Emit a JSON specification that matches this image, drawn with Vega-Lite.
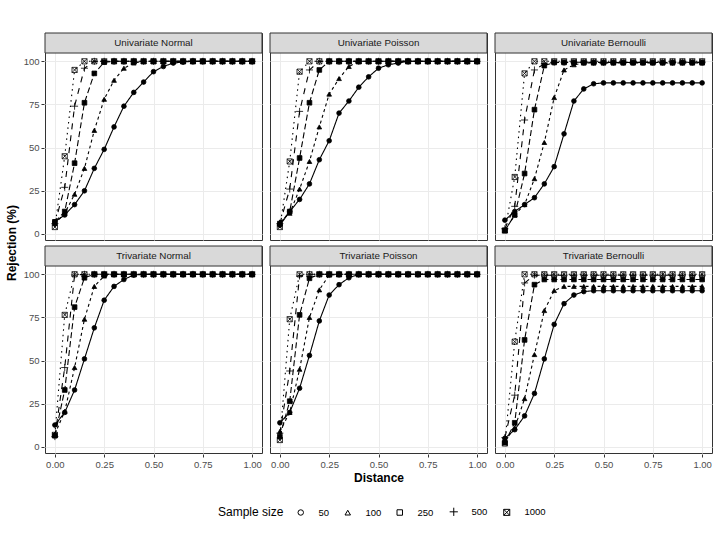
{
  "$schema": "https://vega.github.io/schema/vega-lite/v6.json",
  "padding": {"left": 5, "top": 32, "right": 4, "bottom": 4},
  "data": {"values": [
    {"v":"U","f":"N","n":50,"d":0,"r":7,"p":"Univariate Normal"},{"v":"U","f":"N","n":50,"d":0.05,"r":11},{"v":"U","f":"N","n":50,"d":0.1,"r":17},{"v":"U","f":"N","n":50,"d":0.15,"r":25},{"v":"U","f":"N","n":50,"d":0.2,"r":38},{"v":"U","f":"N","n":50,"d":0.25,"r":49},{"v":"U","f":"N","n":50,"d":0.3,"r":62},{"v":"U","f":"N","n":50,"d":0.35,"r":74},{"v":"U","f":"N","n":50,"d":0.4,"r":82},{"v":"U","f":"N","n":50,"d":0.45,"r":88},{"v":"U","f":"N","n":50,"d":0.5,"r":94},{"v":"U","f":"N","n":50,"d":0.55,"r":97},{"v":"U","f":"N","n":50,"d":0.6,"r":99},{"v":"U","f":"N","n":50,"d":0.65,"r":99.6},{"v":"U","f":"N","n":50,"d":0.7,"r":100},{"v":"U","f":"N","n":50,"d":0.75,"r":100},{"v":"U","f":"N","n":50,"d":0.8,"r":100},{"v":"U","f":"N","n":50,"d":0.85,"r":100},{"v":"U","f":"N","n":50,"d":0.9,"r":100},{"v":"U","f":"N","n":50,"d":0.95,"r":100},{"v":"U","f":"N","n":50,"d":1,"r":100},
    {"v":"U","f":"N","n":100,"d":0,"r":6},{"v":"U","f":"N","n":100,"d":0.05,"r":12},{"v":"U","f":"N","n":100,"d":0.1,"r":23},{"v":"U","f":"N","n":100,"d":0.15,"r":38},{"v":"U","f":"N","n":100,"d":0.2,"r":60},{"v":"U","f":"N","n":100,"d":0.25,"r":78},{"v":"U","f":"N","n":100,"d":0.3,"r":89},{"v":"U","f":"N","n":100,"d":0.35,"r":96},{"v":"U","f":"N","n":100,"d":0.4,"r":99},{"v":"U","f":"N","n":100,"d":0.45,"r":100},{"v":"U","f":"N","n":100,"d":0.5,"r":100},{"v":"U","f":"N","n":100,"d":0.55,"r":100},{"v":"U","f":"N","n":100,"d":0.6,"r":100},{"v":"U","f":"N","n":100,"d":0.65,"r":100},{"v":"U","f":"N","n":100,"d":0.7,"r":100},{"v":"U","f":"N","n":100,"d":0.75,"r":100},{"v":"U","f":"N","n":100,"d":0.8,"r":100},{"v":"U","f":"N","n":100,"d":0.85,"r":100},{"v":"U","f":"N","n":100,"d":0.9,"r":100},{"v":"U","f":"N","n":100,"d":0.95,"r":100},{"v":"U","f":"N","n":100,"d":1,"r":100},
    {"v":"U","f":"N","n":250,"d":0,"r":7},{"v":"U","f":"N","n":250,"d":0.05,"r":13},{"v":"U","f":"N","n":250,"d":0.1,"r":41},{"v":"U","f":"N","n":250,"d":0.15,"r":76},{"v":"U","f":"N","n":250,"d":0.2,"r":93},{"v":"U","f":"N","n":250,"d":0.25,"r":99.5},{"v":"U","f":"N","n":250,"d":0.3,"r":100},{"v":"U","f":"N","n":250,"d":0.35,"r":100},{"v":"U","f":"N","n":250,"d":0.4,"r":100},{"v":"U","f":"N","n":250,"d":0.45,"r":100},{"v":"U","f":"N","n":250,"d":0.5,"r":100},{"v":"U","f":"N","n":250,"d":0.55,"r":100},{"v":"U","f":"N","n":250,"d":0.6,"r":100},{"v":"U","f":"N","n":250,"d":0.65,"r":100},{"v":"U","f":"N","n":250,"d":0.7,"r":100},{"v":"U","f":"N","n":250,"d":0.75,"r":100},{"v":"U","f":"N","n":250,"d":0.8,"r":100},{"v":"U","f":"N","n":250,"d":0.85,"r":100},{"v":"U","f":"N","n":250,"d":0.9,"r":100},{"v":"U","f":"N","n":250,"d":0.95,"r":100},{"v":"U","f":"N","n":250,"d":1,"r":100},
    {"v":"U","f":"N","n":500,"d":0,"r":6},{"v":"U","f":"N","n":500,"d":0.05,"r":27},{"v":"U","f":"N","n":500,"d":0.1,"r":74},{"v":"U","f":"N","n":500,"d":0.15,"r":96},{"v":"U","f":"N","n":500,"d":0.2,"r":100},{"v":"U","f":"N","n":500,"d":0.25,"r":100},{"v":"U","f":"N","n":500,"d":0.3,"r":100},{"v":"U","f":"N","n":500,"d":0.35,"r":100},{"v":"U","f":"N","n":500,"d":0.4,"r":100},{"v":"U","f":"N","n":500,"d":0.45,"r":100},{"v":"U","f":"N","n":500,"d":0.5,"r":100},{"v":"U","f":"N","n":500,"d":0.55,"r":100},{"v":"U","f":"N","n":500,"d":0.6,"r":100},{"v":"U","f":"N","n":500,"d":0.65,"r":100},{"v":"U","f":"N","n":500,"d":0.7,"r":100},{"v":"U","f":"N","n":500,"d":0.75,"r":100},{"v":"U","f":"N","n":500,"d":0.8,"r":100},{"v":"U","f":"N","n":500,"d":0.85,"r":100},{"v":"U","f":"N","n":500,"d":0.9,"r":100},{"v":"U","f":"N","n":500,"d":0.95,"r":100},{"v":"U","f":"N","n":500,"d":1,"r":100},
    {"v":"U","f":"N","n":1000,"d":0,"r":4},{"v":"U","f":"N","n":1000,"d":0.05,"r":45},{"v":"U","f":"N","n":1000,"d":0.1,"r":95},{"v":"U","f":"N","n":1000,"d":0.15,"r":100},{"v":"U","f":"N","n":1000,"d":0.2,"r":100},{"v":"U","f":"N","n":1000,"d":0.25,"r":100},{"v":"U","f":"N","n":1000,"d":0.3,"r":100},{"v":"U","f":"N","n":1000,"d":0.35,"r":100},{"v":"U","f":"N","n":1000,"d":0.4,"r":100},{"v":"U","f":"N","n":1000,"d":0.45,"r":100},{"v":"U","f":"N","n":1000,"d":0.5,"r":100},{"v":"U","f":"N","n":1000,"d":0.55,"r":100},{"v":"U","f":"N","n":1000,"d":0.6,"r":100},{"v":"U","f":"N","n":1000,"d":0.65,"r":100},{"v":"U","f":"N","n":1000,"d":0.7,"r":100},{"v":"U","f":"N","n":1000,"d":0.75,"r":100},{"v":"U","f":"N","n":1000,"d":0.8,"r":100},{"v":"U","f":"N","n":1000,"d":0.85,"r":100},{"v":"U","f":"N","n":1000,"d":0.9,"r":100},{"v":"U","f":"N","n":1000,"d":0.95,"r":100},{"v":"U","f":"N","n":1000,"d":1,"r":100},

    {"v":"U","f":"P","n":50,"d":0,"r":5,"p":"Univariate Poisson"},{"v":"U","f":"P","n":50,"d":0.05,"r":13},{"v":"U","f":"P","n":50,"d":0.1,"r":20},{"v":"U","f":"P","n":50,"d":0.15,"r":29},{"v":"U","f":"P","n":50,"d":0.2,"r":43},{"v":"U","f":"P","n":50,"d":0.25,"r":54},{"v":"U","f":"P","n":50,"d":0.3,"r":70},{"v":"U","f":"P","n":50,"d":0.35,"r":77},{"v":"U","f":"P","n":50,"d":0.4,"r":85},{"v":"U","f":"P","n":50,"d":0.45,"r":91},{"v":"U","f":"P","n":50,"d":0.5,"r":96},{"v":"U","f":"P","n":50,"d":0.55,"r":98},{"v":"U","f":"P","n":50,"d":0.6,"r":99},{"v":"U","f":"P","n":50,"d":0.65,"r":100},{"v":"U","f":"P","n":50,"d":0.7,"r":100},{"v":"U","f":"P","n":50,"d":0.75,"r":100},{"v":"U","f":"P","n":50,"d":0.8,"r":100},{"v":"U","f":"P","n":50,"d":0.85,"r":100},{"v":"U","f":"P","n":50,"d":0.9,"r":100},{"v":"U","f":"P","n":50,"d":0.95,"r":100},{"v":"U","f":"P","n":50,"d":1,"r":100},
    {"v":"U","f":"P","n":100,"d":0,"r":7},{"v":"U","f":"P","n":100,"d":0.05,"r":12},{"v":"U","f":"P","n":100,"d":0.1,"r":26},{"v":"U","f":"P","n":100,"d":0.15,"r":42},{"v":"U","f":"P","n":100,"d":0.2,"r":62},{"v":"U","f":"P","n":100,"d":0.25,"r":81},{"v":"U","f":"P","n":100,"d":0.3,"r":90},{"v":"U","f":"P","n":100,"d":0.35,"r":97},{"v":"U","f":"P","n":100,"d":0.4,"r":100},{"v":"U","f":"P","n":100,"d":0.45,"r":100},{"v":"U","f":"P","n":100,"d":0.5,"r":100},{"v":"U","f":"P","n":100,"d":0.55,"r":100},{"v":"U","f":"P","n":100,"d":0.6,"r":100},{"v":"U","f":"P","n":100,"d":0.65,"r":100},{"v":"U","f":"P","n":100,"d":0.7,"r":100},{"v":"U","f":"P","n":100,"d":0.75,"r":100},{"v":"U","f":"P","n":100,"d":0.8,"r":100},{"v":"U","f":"P","n":100,"d":0.85,"r":100},{"v":"U","f":"P","n":100,"d":0.9,"r":100},{"v":"U","f":"P","n":100,"d":0.95,"r":100},{"v":"U","f":"P","n":100,"d":1,"r":100},
    {"v":"U","f":"P","n":250,"d":0,"r":6},{"v":"U","f":"P","n":250,"d":0.05,"r":13},{"v":"U","f":"P","n":250,"d":0.1,"r":44},{"v":"U","f":"P","n":250,"d":0.15,"r":76},{"v":"U","f":"P","n":250,"d":0.2,"r":95},{"v":"U","f":"P","n":250,"d":0.25,"r":100},{"v":"U","f":"P","n":250,"d":0.3,"r":100},{"v":"U","f":"P","n":250,"d":0.35,"r":100},{"v":"U","f":"P","n":250,"d":0.4,"r":100},{"v":"U","f":"P","n":250,"d":0.45,"r":100},{"v":"U","f":"P","n":250,"d":0.5,"r":100},{"v":"U","f":"P","n":250,"d":0.55,"r":100},{"v":"U","f":"P","n":250,"d":0.6,"r":100},{"v":"U","f":"P","n":250,"d":0.65,"r":100},{"v":"U","f":"P","n":250,"d":0.7,"r":100},{"v":"U","f":"P","n":250,"d":0.75,"r":100},{"v":"U","f":"P","n":250,"d":0.8,"r":100},{"v":"U","f":"P","n":250,"d":0.85,"r":100},{"v":"U","f":"P","n":250,"d":0.9,"r":100},{"v":"U","f":"P","n":250,"d":0.95,"r":100},{"v":"U","f":"P","n":250,"d":1,"r":100},
    {"v":"U","f":"P","n":500,"d":0,"r":6},{"v":"U","f":"P","n":500,"d":0.05,"r":26},{"v":"U","f":"P","n":500,"d":0.1,"r":71},{"v":"U","f":"P","n":500,"d":0.15,"r":95},{"v":"U","f":"P","n":500,"d":0.2,"r":100},{"v":"U","f":"P","n":500,"d":0.25,"r":100},{"v":"U","f":"P","n":500,"d":0.3,"r":100},{"v":"U","f":"P","n":500,"d":0.35,"r":100},{"v":"U","f":"P","n":500,"d":0.4,"r":100},{"v":"U","f":"P","n":500,"d":0.45,"r":100},{"v":"U","f":"P","n":500,"d":0.5,"r":100},{"v":"U","f":"P","n":500,"d":0.55,"r":100},{"v":"U","f":"P","n":500,"d":0.6,"r":100},{"v":"U","f":"P","n":500,"d":0.65,"r":100},{"v":"U","f":"P","n":500,"d":0.7,"r":100},{"v":"U","f":"P","n":500,"d":0.75,"r":100},{"v":"U","f":"P","n":500,"d":0.8,"r":100},{"v":"U","f":"P","n":500,"d":0.85,"r":100},{"v":"U","f":"P","n":500,"d":0.9,"r":100},{"v":"U","f":"P","n":500,"d":0.95,"r":100},{"v":"U","f":"P","n":500,"d":1,"r":100},
    {"v":"U","f":"P","n":1000,"d":0,"r":4},{"v":"U","f":"P","n":1000,"d":0.05,"r":42},{"v":"U","f":"P","n":1000,"d":0.1,"r":94},{"v":"U","f":"P","n":1000,"d":0.15,"r":100},{"v":"U","f":"P","n":1000,"d":0.2,"r":100},{"v":"U","f":"P","n":1000,"d":0.25,"r":100},{"v":"U","f":"P","n":1000,"d":0.3,"r":100},{"v":"U","f":"P","n":1000,"d":0.35,"r":100},{"v":"U","f":"P","n":1000,"d":0.4,"r":100},{"v":"U","f":"P","n":1000,"d":0.45,"r":100},{"v":"U","f":"P","n":1000,"d":0.5,"r":100},{"v":"U","f":"P","n":1000,"d":0.55,"r":100},{"v":"U","f":"P","n":1000,"d":0.6,"r":100},{"v":"U","f":"P","n":1000,"d":0.65,"r":100},{"v":"U","f":"P","n":1000,"d":0.7,"r":100},{"v":"U","f":"P","n":1000,"d":0.75,"r":100},{"v":"U","f":"P","n":1000,"d":0.8,"r":100},{"v":"U","f":"P","n":1000,"d":0.85,"r":100},{"v":"U","f":"P","n":1000,"d":0.9,"r":100},{"v":"U","f":"P","n":1000,"d":0.95,"r":100},{"v":"U","f":"P","n":1000,"d":1,"r":100},

    {"v":"U","f":"B","n":50,"d":0,"r":8,"p":"Univariate Bernoulli"},{"v":"U","f":"B","n":50,"d":0.05,"r":13},{"v":"U","f":"B","n":50,"d":0.1,"r":17},{"v":"U","f":"B","n":50,"d":0.15,"r":21},{"v":"U","f":"B","n":50,"d":0.2,"r":29},{"v":"U","f":"B","n":50,"d":0.25,"r":39},{"v":"U","f":"B","n":50,"d":0.3,"r":58},{"v":"U","f":"B","n":50,"d":0.35,"r":77},{"v":"U","f":"B","n":50,"d":0.4,"r":84},{"v":"U","f":"B","n":50,"d":0.45,"r":87},{"v":"U","f":"B","n":50,"d":0.5,"r":87.5},{"v":"U","f":"B","n":50,"d":0.55,"r":87.5},{"v":"U","f":"B","n":50,"d":0.6,"r":87.5},{"v":"U","f":"B","n":50,"d":0.65,"r":87.5},{"v":"U","f":"B","n":50,"d":0.7,"r":87.5},{"v":"U","f":"B","n":50,"d":0.75,"r":87.5},{"v":"U","f":"B","n":50,"d":0.8,"r":87.5},{"v":"U","f":"B","n":50,"d":0.85,"r":87.5},{"v":"U","f":"B","n":50,"d":0.9,"r":87.5},{"v":"U","f":"B","n":50,"d":0.95,"r":87.5},{"v":"U","f":"B","n":50,"d":1,"r":87.5},
    {"v":"U","f":"B","n":100,"d":0,"r":2},{"v":"U","f":"B","n":100,"d":0.05,"r":11},{"v":"U","f":"B","n":100,"d":0.1,"r":17},{"v":"U","f":"B","n":100,"d":0.15,"r":32},{"v":"U","f":"B","n":100,"d":0.2,"r":53},{"v":"U","f":"B","n":100,"d":0.25,"r":79},{"v":"U","f":"B","n":100,"d":0.3,"r":95},{"v":"U","f":"B","n":100,"d":0.35,"r":98},{"v":"U","f":"B","n":100,"d":0.4,"r":99},{"v":"U","f":"B","n":100,"d":0.45,"r":99},{"v":"U","f":"B","n":100,"d":0.5,"r":99},{"v":"U","f":"B","n":100,"d":0.55,"r":99},{"v":"U","f":"B","n":100,"d":0.6,"r":99},{"v":"U","f":"B","n":100,"d":0.65,"r":99},{"v":"U","f":"B","n":100,"d":0.7,"r":99},{"v":"U","f":"B","n":100,"d":0.75,"r":99},{"v":"U","f":"B","n":100,"d":0.8,"r":99},{"v":"U","f":"B","n":100,"d":0.85,"r":99},{"v":"U","f":"B","n":100,"d":0.9,"r":99},{"v":"U","f":"B","n":100,"d":0.95,"r":99},{"v":"U","f":"B","n":100,"d":1,"r":99},
    {"v":"U","f":"B","n":250,"d":0,"r":2},{"v":"U","f":"B","n":250,"d":0.05,"r":11},{"v":"U","f":"B","n":250,"d":0.1,"r":35},{"v":"U","f":"B","n":250,"d":0.15,"r":72},{"v":"U","f":"B","n":250,"d":0.2,"r":97.5},{"v":"U","f":"B","n":250,"d":0.25,"r":99.3},{"v":"U","f":"B","n":250,"d":0.3,"r":99.3},{"v":"U","f":"B","n":250,"d":0.35,"r":99.3},{"v":"U","f":"B","n":250,"d":0.4,"r":99.3},{"v":"U","f":"B","n":250,"d":0.45,"r":99.3},{"v":"U","f":"B","n":250,"d":0.5,"r":99.3},{"v":"U","f":"B","n":250,"d":0.55,"r":99.3},{"v":"U","f":"B","n":250,"d":0.6,"r":99.3},{"v":"U","f":"B","n":250,"d":0.65,"r":99.3},{"v":"U","f":"B","n":250,"d":0.7,"r":99.3},{"v":"U","f":"B","n":250,"d":0.75,"r":99.3},{"v":"U","f":"B","n":250,"d":0.8,"r":99.3},{"v":"U","f":"B","n":250,"d":0.85,"r":99.3},{"v":"U","f":"B","n":250,"d":0.9,"r":99.3},{"v":"U","f":"B","n":250,"d":0.95,"r":99.3},{"v":"U","f":"B","n":250,"d":1,"r":99.3},
    {"v":"U","f":"B","n":500,"d":0,"r":3},{"v":"U","f":"B","n":500,"d":0.05,"r":16},{"v":"U","f":"B","n":500,"d":0.1,"r":66},{"v":"U","f":"B","n":500,"d":0.15,"r":95},{"v":"U","f":"B","n":500,"d":0.2,"r":98.5},{"v":"U","f":"B","n":500,"d":0.25,"r":99.5},{"v":"U","f":"B","n":500,"d":0.3,"r":99.5},{"v":"U","f":"B","n":500,"d":0.35,"r":99.5},{"v":"U","f":"B","n":500,"d":0.4,"r":99.5},{"v":"U","f":"B","n":500,"d":0.45,"r":99.5},{"v":"U","f":"B","n":500,"d":0.5,"r":99.5},{"v":"U","f":"B","n":500,"d":0.55,"r":99.5},{"v":"U","f":"B","n":500,"d":0.6,"r":99.5},{"v":"U","f":"B","n":500,"d":0.65,"r":99.5},{"v":"U","f":"B","n":500,"d":0.7,"r":99.5},{"v":"U","f":"B","n":500,"d":0.75,"r":99.5},{"v":"U","f":"B","n":500,"d":0.8,"r":99.5},{"v":"U","f":"B","n":500,"d":0.85,"r":99.5},{"v":"U","f":"B","n":500,"d":0.9,"r":99.5},{"v":"U","f":"B","n":500,"d":0.95,"r":99.5},{"v":"U","f":"B","n":500,"d":1,"r":99.5},
    {"v":"U","f":"B","n":1000,"d":0,"r":2},{"v":"U","f":"B","n":1000,"d":0.05,"r":33},{"v":"U","f":"B","n":1000,"d":0.1,"r":93},{"v":"U","f":"B","n":1000,"d":0.15,"r":100},{"v":"U","f":"B","n":1000,"d":0.2,"r":100},{"v":"U","f":"B","n":1000,"d":0.25,"r":100},{"v":"U","f":"B","n":1000,"d":0.3,"r":100},{"v":"U","f":"B","n":1000,"d":0.35,"r":100},{"v":"U","f":"B","n":1000,"d":0.4,"r":100},{"v":"U","f":"B","n":1000,"d":0.45,"r":100},{"v":"U","f":"B","n":1000,"d":0.5,"r":100},{"v":"U","f":"B","n":1000,"d":0.55,"r":100},{"v":"U","f":"B","n":1000,"d":0.6,"r":100},{"v":"U","f":"B","n":1000,"d":0.65,"r":100},{"v":"U","f":"B","n":1000,"d":0.7,"r":100},{"v":"U","f":"B","n":1000,"d":0.75,"r":100},{"v":"U","f":"B","n":1000,"d":0.8,"r":100},{"v":"U","f":"B","n":1000,"d":0.85,"r":100},{"v":"U","f":"B","n":1000,"d":0.9,"r":100},{"v":"U","f":"B","n":1000,"d":0.95,"r":100},{"v":"U","f":"B","n":1000,"d":1,"r":100},

    {"v":"T","f":"N","n":50,"d":0,"r":12.7,"p":"Trivariate Normal"},{"v":"T","f":"N","n":50,"d":0.05,"r":20},{"v":"T","f":"N","n":50,"d":0.1,"r":33},{"v":"T","f":"N","n":50,"d":0.15,"r":51},{"v":"T","f":"N","n":50,"d":0.2,"r":69},{"v":"T","f":"N","n":50,"d":0.25,"r":85},{"v":"T","f":"N","n":50,"d":0.3,"r":93},{"v":"T","f":"N","n":50,"d":0.35,"r":97},{"v":"T","f":"N","n":50,"d":0.4,"r":99.6},{"v":"T","f":"N","n":50,"d":0.45,"r":100},{"v":"T","f":"N","n":50,"d":0.5,"r":100},{"v":"T","f":"N","n":50,"d":0.55,"r":100},{"v":"T","f":"N","n":50,"d":0.6,"r":100},{"v":"T","f":"N","n":50,"d":0.65,"r":100},{"v":"T","f":"N","n":50,"d":0.7,"r":100},{"v":"T","f":"N","n":50,"d":0.75,"r":100},{"v":"T","f":"N","n":50,"d":0.8,"r":100},{"v":"T","f":"N","n":50,"d":0.85,"r":100},{"v":"T","f":"N","n":50,"d":0.9,"r":100},{"v":"T","f":"N","n":50,"d":0.95,"r":100},{"v":"T","f":"N","n":50,"d":1,"r":100},
    {"v":"T","f":"N","n":100,"d":0,"r":7.5},{"v":"T","f":"N","n":100,"d":0.05,"r":20.5},{"v":"T","f":"N","n":100,"d":0.1,"r":46},{"v":"T","f":"N","n":100,"d":0.15,"r":74},{"v":"T","f":"N","n":100,"d":0.2,"r":93},{"v":"T","f":"N","n":100,"d":0.25,"r":99},{"v":"T","f":"N","n":100,"d":0.3,"r":100},{"v":"T","f":"N","n":100,"d":0.35,"r":100},{"v":"T","f":"N","n":100,"d":0.4,"r":100},{"v":"T","f":"N","n":100,"d":0.45,"r":100},{"v":"T","f":"N","n":100,"d":0.5,"r":100},{"v":"T","f":"N","n":100,"d":0.55,"r":100},{"v":"T","f":"N","n":100,"d":0.6,"r":100},{"v":"T","f":"N","n":100,"d":0.65,"r":100},{"v":"T","f":"N","n":100,"d":0.7,"r":100},{"v":"T","f":"N","n":100,"d":0.75,"r":100},{"v":"T","f":"N","n":100,"d":0.8,"r":100},{"v":"T","f":"N","n":100,"d":0.85,"r":100},{"v":"T","f":"N","n":100,"d":0.9,"r":100},{"v":"T","f":"N","n":100,"d":0.95,"r":100},{"v":"T","f":"N","n":100,"d":1,"r":100},
    {"v":"T","f":"N","n":250,"d":0,"r":6.5},{"v":"T","f":"N","n":250,"d":0.05,"r":33},{"v":"T","f":"N","n":250,"d":0.1,"r":81},{"v":"T","f":"N","n":250,"d":0.15,"r":98},{"v":"T","f":"N","n":250,"d":0.2,"r":100},{"v":"T","f":"N","n":250,"d":0.25,"r":100},{"v":"T","f":"N","n":250,"d":0.3,"r":100},{"v":"T","f":"N","n":250,"d":0.35,"r":100},{"v":"T","f":"N","n":250,"d":0.4,"r":100},{"v":"T","f":"N","n":250,"d":0.45,"r":100},{"v":"T","f":"N","n":250,"d":0.5,"r":100},{"v":"T","f":"N","n":250,"d":0.55,"r":100},{"v":"T","f":"N","n":250,"d":0.6,"r":100},{"v":"T","f":"N","n":250,"d":0.65,"r":100},{"v":"T","f":"N","n":250,"d":0.7,"r":100},{"v":"T","f":"N","n":250,"d":0.75,"r":100},{"v":"T","f":"N","n":250,"d":0.8,"r":100},{"v":"T","f":"N","n":250,"d":0.85,"r":100},{"v":"T","f":"N","n":250,"d":0.9,"r":100},{"v":"T","f":"N","n":250,"d":0.95,"r":100},{"v":"T","f":"N","n":250,"d":1,"r":100},
    {"v":"T","f":"N","n":500,"d":0,"r":6},{"v":"T","f":"N","n":500,"d":0.05,"r":46},{"v":"T","f":"N","n":500,"d":0.1,"r":99.6},{"v":"T","f":"N","n":500,"d":0.15,"r":100},{"v":"T","f":"N","n":500,"d":0.2,"r":100},{"v":"T","f":"N","n":500,"d":0.25,"r":100},{"v":"T","f":"N","n":500,"d":0.3,"r":100},{"v":"T","f":"N","n":500,"d":0.35,"r":100},{"v":"T","f":"N","n":500,"d":0.4,"r":100},{"v":"T","f":"N","n":500,"d":0.45,"r":100},{"v":"T","f":"N","n":500,"d":0.5,"r":100},{"v":"T","f":"N","n":500,"d":0.55,"r":100},{"v":"T","f":"N","n":500,"d":0.6,"r":100},{"v":"T","f":"N","n":500,"d":0.65,"r":100},{"v":"T","f":"N","n":500,"d":0.7,"r":100},{"v":"T","f":"N","n":500,"d":0.75,"r":100},{"v":"T","f":"N","n":500,"d":0.8,"r":100},{"v":"T","f":"N","n":500,"d":0.85,"r":100},{"v":"T","f":"N","n":500,"d":0.9,"r":100},{"v":"T","f":"N","n":500,"d":0.95,"r":100},{"v":"T","f":"N","n":500,"d":1,"r":100},
    {"v":"T","f":"N","n":1000,"d":0,"r":7},{"v":"T","f":"N","n":1000,"d":0.05,"r":76.5},{"v":"T","f":"N","n":1000,"d":0.1,"r":100},{"v":"T","f":"N","n":1000,"d":0.15,"r":100},{"v":"T","f":"N","n":1000,"d":0.2,"r":100},{"v":"T","f":"N","n":1000,"d":0.25,"r":100},{"v":"T","f":"N","n":1000,"d":0.3,"r":100},{"v":"T","f":"N","n":1000,"d":0.35,"r":100},{"v":"T","f":"N","n":1000,"d":0.4,"r":100},{"v":"T","f":"N","n":1000,"d":0.45,"r":100},{"v":"T","f":"N","n":1000,"d":0.5,"r":100},{"v":"T","f":"N","n":1000,"d":0.55,"r":100},{"v":"T","f":"N","n":1000,"d":0.6,"r":100},{"v":"T","f":"N","n":1000,"d":0.65,"r":100},{"v":"T","f":"N","n":1000,"d":0.7,"r":100},{"v":"T","f":"N","n":1000,"d":0.75,"r":100},{"v":"T","f":"N","n":1000,"d":0.8,"r":100},{"v":"T","f":"N","n":1000,"d":0.85,"r":100},{"v":"T","f":"N","n":1000,"d":0.9,"r":100},{"v":"T","f":"N","n":1000,"d":0.95,"r":100},{"v":"T","f":"N","n":1000,"d":1,"r":100},

    {"v":"T","f":"P","n":50,"d":0,"r":14,"p":"Trivariate Poisson"},{"v":"T","f":"P","n":50,"d":0.05,"r":20},{"v":"T","f":"P","n":50,"d":0.1,"r":34},{"v":"T","f":"P","n":50,"d":0.15,"r":53},{"v":"T","f":"P","n":50,"d":0.2,"r":73},{"v":"T","f":"P","n":50,"d":0.25,"r":88},{"v":"T","f":"P","n":50,"d":0.3,"r":94},{"v":"T","f":"P","n":50,"d":0.35,"r":98},{"v":"T","f":"P","n":50,"d":0.4,"r":100},{"v":"T","f":"P","n":50,"d":0.45,"r":100},{"v":"T","f":"P","n":50,"d":0.5,"r":100},{"v":"T","f":"P","n":50,"d":0.55,"r":100},{"v":"T","f":"P","n":50,"d":0.6,"r":100},{"v":"T","f":"P","n":50,"d":0.65,"r":100},{"v":"T","f":"P","n":50,"d":0.7,"r":100},{"v":"T","f":"P","n":50,"d":0.75,"r":100},{"v":"T","f":"P","n":50,"d":0.8,"r":100},{"v":"T","f":"P","n":50,"d":0.85,"r":100},{"v":"T","f":"P","n":50,"d":0.9,"r":100},{"v":"T","f":"P","n":50,"d":0.95,"r":100},{"v":"T","f":"P","n":50,"d":1,"r":100},
    {"v":"T","f":"P","n":100,"d":0,"r":9},{"v":"T","f":"P","n":100,"d":0.05,"r":20},{"v":"T","f":"P","n":100,"d":0.1,"r":45},{"v":"T","f":"P","n":100,"d":0.15,"r":75},{"v":"T","f":"P","n":100,"d":0.2,"r":91},{"v":"T","f":"P","n":100,"d":0.25,"r":99.6},{"v":"T","f":"P","n":100,"d":0.3,"r":100},{"v":"T","f":"P","n":100,"d":0.35,"r":100},{"v":"T","f":"P","n":100,"d":0.4,"r":100},{"v":"T","f":"P","n":100,"d":0.45,"r":100},{"v":"T","f":"P","n":100,"d":0.5,"r":100},{"v":"T","f":"P","n":100,"d":0.55,"r":100},{"v":"T","f":"P","n":100,"d":0.6,"r":100},{"v":"T","f":"P","n":100,"d":0.65,"r":100},{"v":"T","f":"P","n":100,"d":0.7,"r":100},{"v":"T","f":"P","n":100,"d":0.75,"r":100},{"v":"T","f":"P","n":100,"d":0.8,"r":100},{"v":"T","f":"P","n":100,"d":0.85,"r":100},{"v":"T","f":"P","n":100,"d":0.9,"r":100},{"v":"T","f":"P","n":100,"d":0.95,"r":100},{"v":"T","f":"P","n":100,"d":1,"r":100},
    {"v":"T","f":"P","n":250,"d":0,"r":6},{"v":"T","f":"P","n":250,"d":0.05,"r":26.5},{"v":"T","f":"P","n":250,"d":0.1,"r":76.5},{"v":"T","f":"P","n":250,"d":0.15,"r":97.7},{"v":"T","f":"P","n":250,"d":0.2,"r":100},{"v":"T","f":"P","n":250,"d":0.25,"r":100},{"v":"T","f":"P","n":250,"d":0.3,"r":100},{"v":"T","f":"P","n":250,"d":0.35,"r":100},{"v":"T","f":"P","n":250,"d":0.4,"r":100},{"v":"T","f":"P","n":250,"d":0.45,"r":100},{"v":"T","f":"P","n":250,"d":0.5,"r":100},{"v":"T","f":"P","n":250,"d":0.55,"r":100},{"v":"T","f":"P","n":250,"d":0.6,"r":100},{"v":"T","f":"P","n":250,"d":0.65,"r":100},{"v":"T","f":"P","n":250,"d":0.7,"r":100},{"v":"T","f":"P","n":250,"d":0.75,"r":100},{"v":"T","f":"P","n":250,"d":0.8,"r":100},{"v":"T","f":"P","n":250,"d":0.85,"r":100},{"v":"T","f":"P","n":250,"d":0.9,"r":100},{"v":"T","f":"P","n":250,"d":0.95,"r":100},{"v":"T","f":"P","n":250,"d":1,"r":100},
    {"v":"T","f":"P","n":500,"d":0,"r":8},{"v":"T","f":"P","n":500,"d":0.05,"r":44},{"v":"T","f":"P","n":500,"d":0.1,"r":99},{"v":"T","f":"P","n":500,"d":0.15,"r":100},{"v":"T","f":"P","n":500,"d":0.2,"r":100},{"v":"T","f":"P","n":500,"d":0.25,"r":100},{"v":"T","f":"P","n":500,"d":0.3,"r":100},{"v":"T","f":"P","n":500,"d":0.35,"r":100},{"v":"T","f":"P","n":500,"d":0.4,"r":100},{"v":"T","f":"P","n":500,"d":0.45,"r":100},{"v":"T","f":"P","n":500,"d":0.5,"r":100},{"v":"T","f":"P","n":500,"d":0.55,"r":100},{"v":"T","f":"P","n":500,"d":0.6,"r":100},{"v":"T","f":"P","n":500,"d":0.65,"r":100},{"v":"T","f":"P","n":500,"d":0.7,"r":100},{"v":"T","f":"P","n":500,"d":0.75,"r":100},{"v":"T","f":"P","n":500,"d":0.8,"r":100},{"v":"T","f":"P","n":500,"d":0.85,"r":100},{"v":"T","f":"P","n":500,"d":0.9,"r":100},{"v":"T","f":"P","n":500,"d":0.95,"r":100},{"v":"T","f":"P","n":500,"d":1,"r":100},
    {"v":"T","f":"P","n":1000,"d":0,"r":4},{"v":"T","f":"P","n":1000,"d":0.05,"r":74},{"v":"T","f":"P","n":1000,"d":0.1,"r":100},{"v":"T","f":"P","n":1000,"d":0.15,"r":100},{"v":"T","f":"P","n":1000,"d":0.2,"r":100},{"v":"T","f":"P","n":1000,"d":0.25,"r":100},{"v":"T","f":"P","n":1000,"d":0.3,"r":100},{"v":"T","f":"P","n":1000,"d":0.35,"r":100},{"v":"T","f":"P","n":1000,"d":0.4,"r":100},{"v":"T","f":"P","n":1000,"d":0.45,"r":100},{"v":"T","f":"P","n":1000,"d":0.5,"r":100},{"v":"T","f":"P","n":1000,"d":0.55,"r":100},{"v":"T","f":"P","n":1000,"d":0.6,"r":100},{"v":"T","f":"P","n":1000,"d":0.65,"r":100},{"v":"T","f":"P","n":1000,"d":0.7,"r":100},{"v":"T","f":"P","n":1000,"d":0.75,"r":100},{"v":"T","f":"P","n":1000,"d":0.8,"r":100},{"v":"T","f":"P","n":1000,"d":0.85,"r":100},{"v":"T","f":"P","n":1000,"d":0.9,"r":100},{"v":"T","f":"P","n":1000,"d":0.95,"r":100},{"v":"T","f":"P","n":1000,"d":1,"r":100},

    {"v":"T","f":"B","n":50,"d":0,"r":5,"p":"Trivariate Bernoulli"},{"v":"T","f":"B","n":50,"d":0.05,"r":10},{"v":"T","f":"B","n":50,"d":0.1,"r":18},{"v":"T","f":"B","n":50,"d":0.15,"r":31},{"v":"T","f":"B","n":50,"d":0.2,"r":51},{"v":"T","f":"B","n":50,"d":0.25,"r":71},{"v":"T","f":"B","n":50,"d":0.3,"r":83},{"v":"T","f":"B","n":50,"d":0.35,"r":88},{"v":"T","f":"B","n":50,"d":0.4,"r":90},{"v":"T","f":"B","n":50,"d":0.45,"r":90.5},{"v":"T","f":"B","n":50,"d":0.5,"r":90.5},{"v":"T","f":"B","n":50,"d":0.55,"r":90.5},{"v":"T","f":"B","n":50,"d":0.6,"r":90.5},{"v":"T","f":"B","n":50,"d":0.65,"r":90.5},{"v":"T","f":"B","n":50,"d":0.7,"r":90.5},{"v":"T","f":"B","n":50,"d":0.75,"r":90.5},{"v":"T","f":"B","n":50,"d":0.8,"r":90.5},{"v":"T","f":"B","n":50,"d":0.85,"r":90.5},{"v":"T","f":"B","n":50,"d":0.9,"r":90.5},{"v":"T","f":"B","n":50,"d":0.95,"r":90.5},{"v":"T","f":"B","n":50,"d":1,"r":90.5},
    {"v":"T","f":"B","n":100,"d":0,"r":3.5},{"v":"T","f":"B","n":100,"d":0.05,"r":11},{"v":"T","f":"B","n":100,"d":0.1,"r":28},{"v":"T","f":"B","n":100,"d":0.15,"r":53.5},{"v":"T","f":"B","n":100,"d":0.2,"r":79},{"v":"T","f":"B","n":100,"d":0.25,"r":90.6},{"v":"T","f":"B","n":100,"d":0.3,"r":93},{"v":"T","f":"B","n":100,"d":0.35,"r":93},{"v":"T","f":"B","n":100,"d":0.4,"r":93},{"v":"T","f":"B","n":100,"d":0.45,"r":93},{"v":"T","f":"B","n":100,"d":0.5,"r":93},{"v":"T","f":"B","n":100,"d":0.55,"r":93},{"v":"T","f":"B","n":100,"d":0.6,"r":93},{"v":"T","f":"B","n":100,"d":0.65,"r":93},{"v":"T","f":"B","n":100,"d":0.7,"r":93},{"v":"T","f":"B","n":100,"d":0.75,"r":93},{"v":"T","f":"B","n":100,"d":0.8,"r":93},{"v":"T","f":"B","n":100,"d":0.85,"r":93},{"v":"T","f":"B","n":100,"d":0.9,"r":93},{"v":"T","f":"B","n":100,"d":0.95,"r":93},{"v":"T","f":"B","n":100,"d":1,"r":93},
    {"v":"T","f":"B","n":250,"d":0,"r":2.5},{"v":"T","f":"B","n":250,"d":0.05,"r":14},{"v":"T","f":"B","n":250,"d":0.1,"r":62},{"v":"T","f":"B","n":250,"d":0.15,"r":94},{"v":"T","f":"B","n":250,"d":0.2,"r":97},{"v":"T","f":"B","n":250,"d":0.25,"r":97},{"v":"T","f":"B","n":250,"d":0.3,"r":97},{"v":"T","f":"B","n":250,"d":0.35,"r":97},{"v":"T","f":"B","n":250,"d":0.4,"r":97},{"v":"T","f":"B","n":250,"d":0.45,"r":97},{"v":"T","f":"B","n":250,"d":0.5,"r":97},{"v":"T","f":"B","n":250,"d":0.55,"r":97},{"v":"T","f":"B","n":250,"d":0.6,"r":97},{"v":"T","f":"B","n":250,"d":0.65,"r":97},{"v":"T","f":"B","n":250,"d":0.7,"r":97},{"v":"T","f":"B","n":250,"d":0.75,"r":97},{"v":"T","f":"B","n":250,"d":0.8,"r":97},{"v":"T","f":"B","n":250,"d":0.85,"r":97},{"v":"T","f":"B","n":250,"d":0.9,"r":97},{"v":"T","f":"B","n":250,"d":0.95,"r":97},{"v":"T","f":"B","n":250,"d":1,"r":97},
    {"v":"T","f":"B","n":500,"d":0,"r":5.4},{"v":"T","f":"B","n":500,"d":0.05,"r":30},{"v":"T","f":"B","n":500,"d":0.1,"r":95},{"v":"T","f":"B","n":500,"d":0.15,"r":99.5},{"v":"T","f":"B","n":500,"d":0.2,"r":99.5},{"v":"T","f":"B","n":500,"d":0.25,"r":99.5},{"v":"T","f":"B","n":500,"d":0.3,"r":99.5},{"v":"T","f":"B","n":500,"d":0.35,"r":99.5},{"v":"T","f":"B","n":500,"d":0.4,"r":99.5},{"v":"T","f":"B","n":500,"d":0.45,"r":99.5},{"v":"T","f":"B","n":500,"d":0.5,"r":99.5},{"v":"T","f":"B","n":500,"d":0.55,"r":99.5},{"v":"T","f":"B","n":500,"d":0.6,"r":99.5},{"v":"T","f":"B","n":500,"d":0.65,"r":99.5},{"v":"T","f":"B","n":500,"d":0.7,"r":99.5},{"v":"T","f":"B","n":500,"d":0.75,"r":99.5},{"v":"T","f":"B","n":500,"d":0.8,"r":99.5},{"v":"T","f":"B","n":500,"d":0.85,"r":99.5},{"v":"T","f":"B","n":500,"d":0.9,"r":99.5},{"v":"T","f":"B","n":500,"d":0.95,"r":99.5},{"v":"T","f":"B","n":500,"d":1,"r":99.5},
    {"v":"T","f":"B","n":1000,"d":0,"r":2},{"v":"T","f":"B","n":1000,"d":0.05,"r":61},{"v":"T","f":"B","n":1000,"d":0.1,"r":100},{"v":"T","f":"B","n":1000,"d":0.15,"r":100},{"v":"T","f":"B","n":1000,"d":0.2,"r":100},{"v":"T","f":"B","n":1000,"d":0.25,"r":100},{"v":"T","f":"B","n":1000,"d":0.3,"r":100},{"v":"T","f":"B","n":1000,"d":0.35,"r":100},{"v":"T","f":"B","n":1000,"d":0.4,"r":100},{"v":"T","f":"B","n":1000,"d":0.45,"r":100},{"v":"T","f":"B","n":1000,"d":0.5,"r":100},{"v":"T","f":"B","n":1000,"d":0.55,"r":100},{"v":"T","f":"B","n":1000,"d":0.6,"r":100},{"v":"T","f":"B","n":1000,"d":0.65,"r":100},{"v":"T","f":"B","n":1000,"d":0.7,"r":100},{"v":"T","f":"B","n":1000,"d":0.75,"r":100},{"v":"T","f":"B","n":1000,"d":0.8,"r":100},{"v":"T","f":"B","n":1000,"d":0.85,"r":100},{"v":"T","f":"B","n":1000,"d":0.9,"r":100},{"v":"T","f":"B","n":1000,"d":0.95,"r":100},{"v":"T","f":"B","n":1000,"d":1,"r":100}
  ]},
  "facet": {
    "row": {"field": "v", "type": "nominal", "sort": ["U", "T"],
      "header": {"labels": false, "title": "Rejection (%)", "titlePadding": -6}},
    "column": {"field": "f", "type": "nominal", "sort": ["N", "P", "B"],
      "header": {"labels": false, "title": "Distance", "titleOrient": "bottom", "titlePadding": -6}}
  },
  "spacing": {"row": 4, "column": 6},
  "spec": {
    "width": 217,
    "height": 207,
    "layer": [
      {
        "mark": {"type": "line", "color": "black", "strokeWidth": 1.1},
        "encoding": {
          "x": {"field": "d", "type": "quantitative",
            "scale": {"domain": [-0.05, 1.05], "nice": false, "zero": false},
            "axis": {"title": null, "values": [0, 0.125, 0.25, 0.375, 0.5, 0.625, 0.75, 0.875, 1],
              "format": ".2f",
              "labelExpr": "(datum.value * 8) % 2 == 1 ? '' : datum.label",
              "tickOpacity": {"condition": {"test": "(datum.value * 8) % 2 == 1", "value": 0}, "value": 1},
              "gridWidth": {"condition": {"test": "(datum.value * 8) % 2 == 1", "value": 0.5}, "value": 1}}},
          "y": {"field": "r", "type": "quantitative",
            "scale": {"domain": [-3.5, 116.4], "nice": false, "zero": false},
            "axis": {"title": null, "values": [0, 12.5, 25, 37.5, 50, 62.5, 75, 87.5, 100],
              "labelExpr": "(datum.value / 12.5) % 2 == 1 ? '' : datum.label",
              "tickOpacity": {"condition": {"test": "(datum.value / 12.5) % 2 == 1", "value": 0}, "value": 1},
              "gridWidth": {"condition": {"test": "(datum.value / 12.5) % 2 == 1", "value": 0.5}, "value": 1}}},
          "strokeDash": {"field": "n", "type": "nominal",
            "scale": {"domain": [50, 100, 250, 500, 1000, 2000], "range": [[1, 0], [3, 3], [6, 3], [6, 6], [1.5, 4], [1, 0]]},
            "legend": null}
        }
      },
      {
        "mark": {"type": "point", "opacity": 1, "stroke": "black", "strokeWidth": 0.8, "size": 22},
        "encoding": {
          "x": {"field": "d", "type": "quantitative"},
          "y": {"field": "r", "type": "quantitative"},
          "fill": {"condition": {"test": "datum.n < 500", "value": "black"}, "value": "transparent"},
          "shape": {"field": "n", "type": "nominal", "title": "Sample size",
            "scale": {"domain": [50, 100, 250, 500, 1000],
              "range": ["circle", "triangle-up", "square", "M-1.5,0L1.5,0M0,-1.5L0,1.5", "M-1.1,-1.1L1.1,-1.1L1.1,1.1L-1.1,1.1ZM-1.1,-1.1L1.1,1.1M-1.1,1.1L1.1,-1.1"]},
            "legend": {
              "orient": "none", "legendX": 173, "legendY": 474,
              "direction": "horizontal", "titleOrient": "left", "titleBaseline": "middle",
              "titleFontSize": 12, "titleFontWeight": "normal", "titleColor": "black", "titlePadding": 12,
              "labelFontSize": 9.5, "labelColor": "black", "labelOffset": 13,
              "symbolSize": 30, "symbolStrokeWidth": 1, "columnPadding": 13,
              "encode": {"symbols": {
                "update": {
                  "shape": {"signal": "datum.value == 50 ? 'M-3.83,0L3.83,0M-0.84,0A0.84,0.84 0 1 0 0.84,0A0.84,0.84 0 1 0 -0.84,0Z' : datum.value == 100 ? 'M-3.83,0L-2.73,0M-1.64,0L-0.9,0M0.9,0L1.64,0M2.73,0L3.83,0M0,-1L0.95,0.65L-0.95,0.65Z' : datum.value == 250 ? 'M-3.83,0L-1.64,0M-0.55,0L0.55,0M1.64,0L3.3,0M-0.8,-0.8L0.8,-0.8L0.8,0.8L-0.8,0.8Z' : datum.value == 500 ? 'M-3.83,0L-1.64,0M1.64,0L3.83,0M-1.3,0L1.3,0M0,-1.3L0,1.3' : 'M-3.83,0L-3.28,0M-1.82,0L-1.27,0M1.27,0L1.82,0M3.28,0L3.83,0M-0.9,-0.9L0.9,-0.9L0.9,0.9L-0.9,0.9ZM-0.9,-0.9L0.9,0.9M-0.9,0.9L0.9,-0.9'"},
                  "fill": {"signal": "datum.value >= 500 ? 'transparent' : 'black'"},
                  "stroke": {"value": "black"},
                  "strokeDash": {"value": [1, 0]},
                  "opacity": {"value": 1}
                },
                "shape": {"value": {"expr": "datum.value == 50 ? 'M-3.83,0L3.83,0M-0.84,0A0.84,0.84 0 1 0 0.84,0A0.84,0.84 0 1 0 -0.84,0Z' : datum.value == 100 ? 'M-3.83,0L-2.73,0M-1.64,0L-0.9,0M0.9,0L1.64,0M2.73,0L3.83,0M0,-1L0.95,0.65L-0.95,0.65Z' : datum.value == 250 ? 'M-3.83,0L-1.64,0M-0.55,0L0.55,0M1.64,0L3.3,0M-0.8,-0.8L0.8,-0.8L0.8,0.8L-0.8,0.8Z' : datum.value == 500 ? 'M-3.83,0L-1.64,0M1.64,0L3.83,0M-1.3,0L1.3,0M0,-1.3L0,1.3' : 'M-3.83,0L-3.28,0M-1.82,0L-1.27,0M1.27,0L1.82,0M3.28,0L3.83,0M-0.9,-0.9L0.9,-0.9L0.9,0.9L-0.9,0.9ZM-0.9,-0.9L0.9,0.9M-0.9,0.9L0.9,-0.9'"}},
                "fill": {"value": {"expr": "datum.value >= 500 ? 'transparent' : 'black'"}},
                "stroke": {"value": "black"},
                "opacity": {"value": 1}
              }}
            }}
        }
      },
      {
        "transform": [{"filter": "datum.n == 50 && datum.d == 0"}],
        "mark": {"type": "rect", "fill": "#d9d9d9", "stroke": "#333333", "strokeWidth": 1},
        "encoding": {
          "x": {"datum": -0.05, "type": "quantitative"},
          "x2": {"datum": 1.05},
          "y": {"datum": 104.8, "type": "quantitative"},
          "y2": {"datum": 116.4}
        }
      },
      {
        "transform": [{"filter": "datum.n == 50 && datum.d == 0"}],
        "mark": {"type": "text", "fontSize": 9.8, "color": "#1a1a1a", "baseline": "middle", "align": "center"},
        "encoding": {
          "x": {"datum": 0.5, "type": "quantitative"},
          "y": {"datum": 110.6, "type": "quantitative"},
          "text": {"field": "p"}
        }
      }
    ]
  },
  "config": {
    "font": "Liberation Sans",
    "view": {"stroke": "#333333", "strokeWidth": 1},
    "axis": {"domain": false, "gridColor": "#ebebeb", "tickColor": "#333333", "tickSize": 3,
      "labelFontSize": 9.5, "labelColor": "#4d4d4d", "labelPadding": 2},
    "header": {"titleFontSize": 12, "titleFontWeight": "bold", "titleColor": "black"}
  }
}
